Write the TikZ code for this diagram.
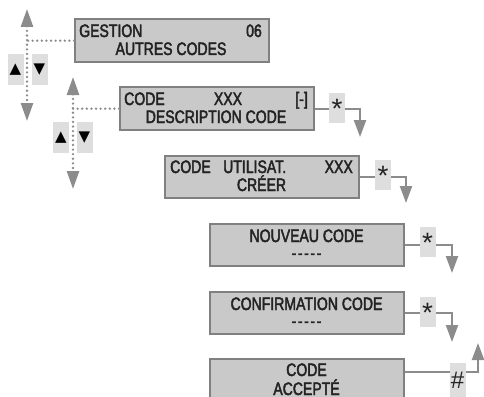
\documentclass[tikz,border=0pt]{standalone}
\usepackage{fontspec}
\setmainfont{Liberation Sans}[FakeStretch=0.78, FakeBold=2.4, Ligatures=NoCommon]
\newfontfamily\keyfont{Liberation Sans}
\newfontfamily\symfont{DejaVu Sans}
\usetikzlibrary{arrows.meta}

\definecolor{lcdfill}{RGB}{201,201,201}
\definecolor{lcdedge}{RGB}{128,128,128}
\definecolor{keyfill}{RGB}{222,222,222}
\definecolor{wirecol}{RGB}{140,140,140}
\definecolor{ink}{RGB}{35,35,35}

\newcommand\blankcode{-\kern1.6pt-\kern1.6pt-\kern1.6pt-\kern1.6pt-}

\tikzset{
  lcd/.style={draw=lcdedge, line width=2.4pt, fill=lcdfill, anchor=north west,
    minimum width=194pt, minimum height=43pt, inner sep=0pt},
  txt/.style={inner sep=0pt, text=ink, font=\fontsize{18}{18}\selectfont},
  key/.style={fill=keyfill, inner sep=0pt, anchor=north, minimum width=16pt,
    text height=25pt, text depth=5pt, text=ink, font=\keyfont\fontsize{28}{28}\selectfont},
  navkey/.style={fill=keyfill, inner sep=0pt, minimum width=16pt, minimum height=31pt,
    font=\symfont\fontsize{15}{15}\selectfont},
  wire/.style={draw=wirecol, line width=2.2pt, -{Triangle[width=12pt,length=17pt]}},
  dots/.style={draw=wirecol, line width=2.6pt, line cap=round, dash pattern=on 0pt off 4.6pt},
  updown/.style={dots, {Triangle[width=12pt,length=18pt]}-{Triangle[width=12pt,length=18pt]}}
}

\begin{document}
\begin{tikzpicture}[x=1pt, y=-1pt]
\useasboundingbox (0,0) rectangle (484,396);
\clip (0,0) rectangle (484,396);

% screens
\node[lcd] (b1) at (74,18) {};
\node[lcd] (b2) at (119,86) {};
\node[lcd, minimum height=42pt] (b3) at (164,155) {};
\node[lcd, minimum height=42pt] (b4) at (209,223) {};
\node[lcd, minimum height=42pt] (b5) at (209,291) {};
\node[lcd, minimum height=60pt] (b6) at (209,358) {};

\node[txt, anchor=base west] (b1a) at (79,37) {GESTION};
\node[txt, anchor=base east] (b1b) at (262,37) {06};
\node[txt, anchor=base] (b1c) at (171,55) {AUTRES CODES};

\node[txt, anchor=base west] (b2a) at (124,105) {CODE};
\node[txt, anchor=base] (b2b) at (228,105) {XXX};
\node[txt, anchor=base east] (b2c) at (308,105) {[-]};
\node[txt, anchor=base] (b2d) at (216,123) {DESCRIPTION CODE};

\node[txt, anchor=base west] (b3a) at (170,173) {CODE};
\node[txt, anchor=base west] (b3b) at (223,173) {UTILISAT.};
\node[txt, anchor=base east] (b3c) at (353,173) {XXX};
\node[txt, anchor=base] (b3d) at (261.5,191) {CRÉER};

\node[txt, anchor=base] (b4a) at (306.5,242) {NOUVEAU CODE};
\node[txt, anchor=base] (b4b) at (306.5,259) {\blankcode};

\node[txt, anchor=base] (b5a) at (306.5,310) {CONFIRMATION CODE};
\node[txt, anchor=base] (b5b) at (306.5,327) {\blankcode};

\node[txt, anchor=base] (b6a) at (306.5,376) {CODE};
\node[txt, anchor=base] (b6b) at (306.5,395) {ACCEPTÉ};

% scrolling
\coordinate (u1) at (27,9);
\coordinate (d1) at (27,121);
\draw[updown] (u1) -- (d1);
\draw[dots] (b1.west) -- (b1.west -| u1);
\node[navkey] (up1) at (15.5,69.5) {▲};
\node[navkey] (dn1) at (39.5,69.5) {▼};

\coordinate (u2) at (73,77);
\coordinate (d2) at (73,189);
\draw[updown] (u2) -- (d2);
\draw[dots] (b2.west) -- (b2.west -| u2);
\node[navkey] (up2) at (61,137.5) {▲};
\node[navkey] (dn2) at (84.5,137.5) {▼};

% key presses
\coordinate (t2) at (360,137);
\coordinate (t3) at (406,203);
\coordinate (t4) at (452,273);
\coordinate (t5) at (452,342);
\coordinate (t6) at (478,343);
\draw[wire] (b2.east) -| (t2);
\draw[wire] (b3.east) -| (t3);
\draw[wire] (b4.east) -| (t4);
\draw[wire] (b5.east) -| (t5);
\draw[wire] ([yshift=-14pt]b6.north east) -| (t6);

\node[key] (k2) at (337,93) {*};
\node[key] (k3) at (383,160) {*};
\node[key] (k4) at (427.5,227) {*};
\node[key] (k5) at (427.5,297) {*};
\node[key, text depth=12pt, font=\keyfont\fontsize{24}{24}\selectfont] (k6) at (457.5,363) {\#};

\end{tikzpicture}
\end{document}
